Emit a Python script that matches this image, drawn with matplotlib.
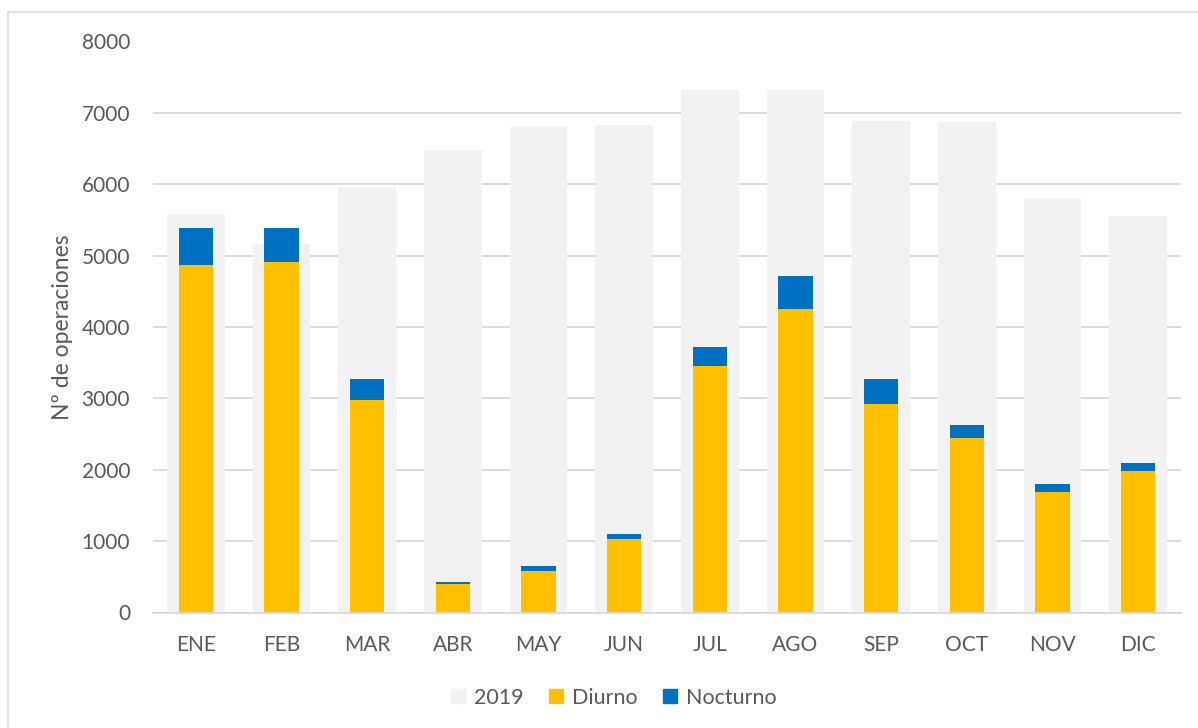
import matplotlib
matplotlib.use("Agg")
import matplotlib.pyplot as plt
from matplotlib.patches import Patch, Rectangle
import numpy as np

months = ["ENE", "FEB", "MAR", "ABR", "MAY", "JUN", "JUL", "AGO", "SEP", "OCT", "NOV", "DIC"]
ops_2019 = [5580, 5160, 5965, 6480, 6800, 6830, 7320, 7320, 6885, 6875, 5795, 5560]
diurno = [4870, 4910, 2975, 400, 586, 1030, 3455, 4252, 2920, 2445, 1690, 1982]
nocturno = [518, 478, 297, 33, 61, 70, 265, 467, 352, 182, 110, 113]
yticks = [0, 1000, 2000, 3000, 4000, 5000, 6000, 7000, 8000]

plt.rcParams['font.family'] = ['Lato', 'DejaVu Sans']
txt = '#595959'
fs = 15

fig = plt.figure(figsize=(11.98, 7.28), dpi=100)
ax = fig.add_axes([153 / 1198, 1 - 612.5 / 728, (1181 - 153) / 1198, (612.5 - 41.5) / 728])

x = np.arange(len(months))
ax.bar(x, ops_2019, width=0.67, color='#f2f2f2', zorder=2, label='2019')
ax.bar(x, diurno, width=0.40, color='#ffc000', zorder=3, label='Diurno')
ax.bar(x, nocturno, bottom=diurno, width=0.40, color='#0070c0', zorder=3, label='Nocturno')

ax.set_xlim(-0.5, len(months) - 0.5)
ax.set_ylim(0, 8000)
ax.set_yticks(yticks)
ax.set_yticklabels([str(v) for v in yticks])
ax.set_xticks(x)
ax.set_xticklabels(months)
ax.yaxis.grid(True, color='#d9d9d9', linewidth=1.3, zorder=1)
ax.set_axisbelow(True)
for s in ['top', 'right', 'left']:
    ax.spines[s].set_visible(False)
ax.spines['bottom'].set_color('#d9d9d9')
ax.spines['bottom'].set_linewidth(1.3)
ax.spines['bottom'].set_zorder(4)
ax.tick_params(axis='both', length=0, labelsize=fs, labelcolor=txt)
ax.tick_params(axis='x', pad=16)
ax.tick_params(axis='y', pad=16.5)
ax.set_ylabel('Nº de operaciones', fontsize=16.5, color=txt, labelpad=6)

fig.patches.append(Rectangle((8 / 1198, -0.1), 1.2, 1 - 12 / 728 + 0.1, transform=fig.transFigure,
                             fill=False, edgecolor='#d9d9d9', linewidth=1.2))

handles = [Patch(color='#f2f2f2'), Patch(color='#ffc000'), Patch(color='#0070c0')]
leg = fig.legend(handles, ['2019', 'Diurno', 'Nocturno'], loc='center',
                 bbox_to_anchor=(614 / 1198, 1 - 697.5 / 728), ncol=3, frameon=False,
                 fontsize=15.5, handlelength=0.65, handleheight=0.65, handletextpad=0.4,
                 columnspacing=1.2, labelcolor=txt)

fig.savefig('out.png', dpi=100)
